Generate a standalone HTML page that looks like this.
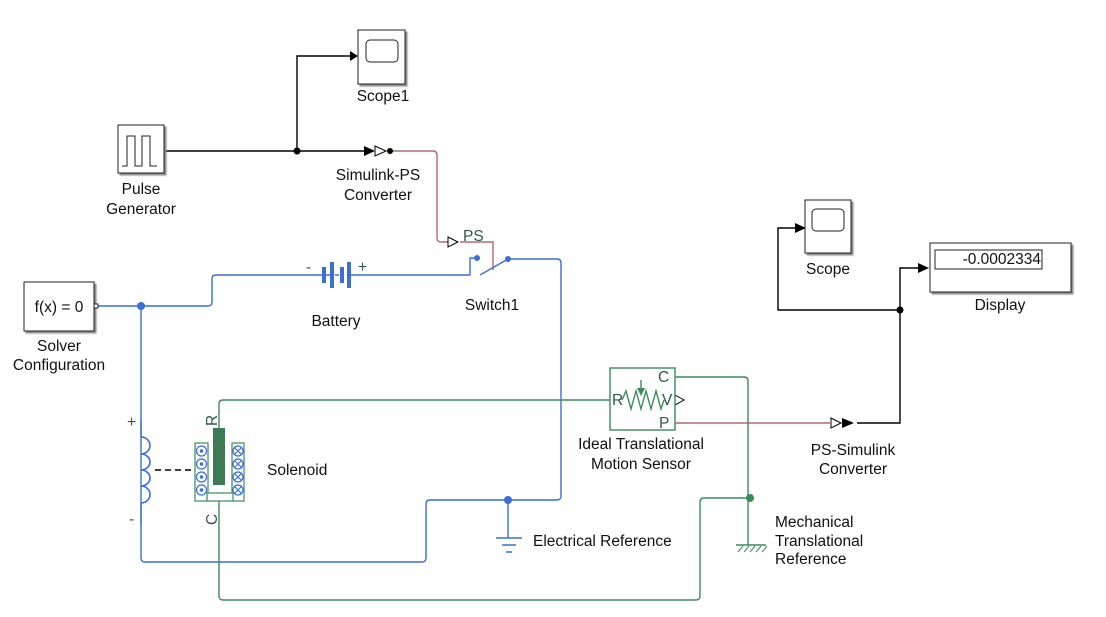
<!DOCTYPE html>
<html><head><meta charset="utf-8"><style>
body{margin:0;background:#fff}
text{font-family:"Liberation Sans",Arial,sans-serif;font-size:15.5px;fill:#111}
</style></head><body>
<svg width="1106" height="612" viewBox="0 0 1106 612" xmlns="http://www.w3.org/2000/svg">
<defs><filter id="sh"><feDropShadow dx="2" dy="2" stdDeviation="0.8" flood-color="#888"/></filter></defs>
<g fill="none" stroke-width="1.4">
<path d="M164 151H297V56H350" stroke="#000"/>
<path d="M297 151H364" stroke="#000"/>
<path d="M857 423H900V268H920" stroke="#000"/>
<path d="M900 310H778V228H797" stroke="#000"/>
<path d="M392 151H433Q437 151 437 155V238Q437 242 441 242H448" stroke="#b06b6b"/>
<path d="M460 242H493V270" stroke="#b06b6b"/>
<path d="M675 423H830" stroke="#b06b6b"/>
<path d="M97 306H208Q212 306 212 302V279Q212 275 216 275H322" stroke="#3a6fd8"/>
<path d="M350 275H470V258H477" stroke="#3a6fd8"/>
<path d="M480 275L508 259" stroke="#3a6fd8"/>
<path d="M508 259H557Q561 259 561 263V496Q561 500 557 500H430Q426 500 426 504V558Q426 562 422 562H145Q141 562 141 558V306" stroke="#3a6fd8"/>
<path d="M508 500V538" stroke="#3a6fd8"/>
<path d="M496 538H522M502 545H516M506 552H512" stroke="#3a6fd8"/>
<path d="M141 420V437M141 503V525" stroke="#3a6fd8"/>
<path d="M141 437a9 8.5 0 0 1 0 17a9 8 0 0 1 0 16a9 8 0 0 1 0 16a9 8.5 0 0 1 0 17" stroke="#3a6fd8" stroke-width="1.6"/>
<path d="M219 428V404Q219 400 223 400H612" stroke="#3e8a5a"/>
<path d="M219 500V596Q219 600 223 600H696Q700 600 700 596V502Q700 498 704 498H750" stroke="#3e8a5a"/>
<path d="M675 377H744Q748 377 748 381V545" stroke="#3e8a5a"/>
<path d="M736 545H766" stroke="#3e8a5a"/>
<path d="M738 552l5-6M744 552l5-6M750 552l5-6M756 552l5-6M762 552l5-6" stroke="#3e8a5a" stroke-width="1"/>
<path d="M155 470H192" stroke="#000" stroke-dasharray="6,4"/>
</g>
<g>
<circle cx="297" cy="151" r="3.5" fill="#000"/>
<circle cx="900" cy="310" r="3.5" fill="#000"/>
<circle cx="141" cy="306" r="4" fill="#3a6fd8"/>
<circle cx="508" cy="500" r="4" fill="#3a6fd8"/>
<circle cx="477" cy="258" r="3" fill="#3a6fd8"/>
<circle cx="508" cy="259" r="3" fill="#3a6fd8"/>
<circle cx="750" cy="498" r="4" fill="#3e8a5a"/>
<circle cx="390" cy="151" r="3" fill="#000"/>
</g>
<path d="M350 51L358 56L350 61Z" fill="#000"/>
<path d="M364 146L375 151L364 156Z" fill="#000"/>
<path d="M375 146L386 151L375 156Z" fill="#fff" stroke="#000"/>
<path d="M448 237L458 242L448 247Z" fill="#fff" stroke="#000"/>
<path d="M675 395L684 400L675 405Z" fill="#fff" stroke="#000"/>
<path d="M831 418L841 423L831 428Z" fill="#fff" stroke="#000"/>
<path d="M842 418L854 423L842 428Z" fill="#000"/>
<path d="M918 263L929 268L918 273Z" fill="#000"/>
<path d="M795 223L806 228L795 233Z" fill="#000"/>
<rect x="358" y="30" width="47" height="54" fill="#fff" stroke="#222" filter="url(#sh)"/>
<rect x="366" y="40" width="32" height="22" rx="4" fill="#fff" stroke="#222"/>
<rect x="118" y="125" width="46" height="48" fill="#fff" stroke="#222" filter="url(#sh)"/>
<path d="M122 166H127V136H135V166H142V136H150V166H157" fill="none" stroke="#222"/>
<rect x="24" y="282" width="70" height="49" fill="#fff" stroke="#222" filter="url(#sh)"/>
<rect x="94" y="304" width="4" height="4" fill="#fff" stroke="#222"/>
<rect x="805" y="200" width="46" height="53" fill="#fff" stroke="#222" filter="url(#sh)"/>
<rect x="812" y="209" width="32" height="22" rx="4" fill="#fff" stroke="#222"/>
<rect x="930" y="243" width="141" height="49" fill="#fff" stroke="#222" filter="url(#sh)"/>
<rect x="935" y="250" width="107" height="19" fill="#fff" stroke="#222"/>
<g fill="#3a6fd8">
<rect x="322" y="267" width="4" height="16"/><rect x="330" y="262" width="4" height="26"/>
<rect x="340" y="267" width="4" height="16"/><rect x="347" y="262" width="4" height="26"/>
</g>
<path d="M326 275H330M335 275H339" stroke="#3a6fd8" stroke-width="1.4"/>
<rect x="610" y="368" width="65" height="62" fill="#fff" stroke="#3e8a5a" stroke-width="1.4"/>
<path d="M622 400L626 391L631 409L636 391L641 409L646 391L651 409L656 391L661 409L664 400" fill="none" stroke="#3e8a5a" stroke-width="1.4"/>
<path d="M641 380V394" stroke="#3e8a5a" stroke-width="1.4"/><path d="M637 388L641 396L645 388Z" fill="#3e8a5a"/>
<g stroke="#3e8a5a" stroke-width="1.2" fill="#fff">
<rect x="195" y="443" width="13" height="58"/><rect x="232" y="443" width="12" height="58"/>
<rect x="207" y="493" width="26" height="8"/>
</g>
<rect x="213" y="428" width="12" height="57" fill="#3e7a55"/>
<g fill="none" stroke="#3a6fd8" stroke-width="1.2">
<circle cx="201.5" cy="451" r="5"/><circle cx="201.5" cy="464" r="5"/><circle cx="201.5" cy="477" r="5"/><circle cx="201.5" cy="490" r="5"/>
<circle cx="238" cy="451" r="5"/><circle cx="238" cy="464" r="5"/><circle cx="238" cy="477" r="5"/><circle cx="238" cy="490" r="5"/>
<path d="M234.5 447.5l7 7M241.5 447.5l-7 7M234.5 460.5l7 7M241.5 460.5l-7 7M234.5 473.5l7 7M241.5 473.5l-7 7M234.5 486.5l7 7M241.5 486.5l-7 7"/>
</g>
<g fill="#3a6fd8"><circle cx="201.5" cy="451" r="1.8"/><circle cx="201.5" cy="464" r="1.8"/><circle cx="201.5" cy="477" r="1.8"/><circle cx="201.5" cy="490" r="1.8"/></g>
<g text-anchor="middle">
<text x="383" y="101">Scope1</text>
<text x="141" y="194">Pulse</text><text x="141" y="214">Generator</text>
<text x="59" y="312">f(x) = 0</text>
<text x="59" y="351">Solver</text><text x="59" y="370">Configuration</text>
<text x="378" y="180">Simulink-PS</text><text x="378" y="200">Converter</text>
<text x="336" y="326">Battery</text>
<text x="492" y="310">Switch1</text>
<text x="828" y="274">Scope</text>
<text x="1000" y="310">Display</text>
<text x="641" y="449">Ideal Translational</text><text x="641" y="469">Motion Sensor</text>
<text x="853" y="455">PS-Simulink</text><text x="853" y="474">Converter</text>
</g>
<text x="1041" y="264" text-anchor="end">-0.0002334</text>
<text x="463" y="241" style="fill:#2e5a4a">PS</text>
<text x="306" y="272" style="fill:#2e5a4a">-</text>
<text x="358" y="272" style="fill:#2e5a4a">+</text>
<text x="127" y="427" style="fill:#2e5a4a">+</text>
<text x="129" y="524" style="fill:#2e5a4a">-</text>
<text x="267" y="475">Solenoid</text>
<text x="533" y="546">Electrical Reference</text>
<text x="775" y="527">Mechanical</text><text x="775" y="546">Translational</text><text x="775" y="564">Reference</text>
<text x="658" y="382" style="fill:#2e5a4a">C</text>
<text x="612" y="405" style="fill:#2e5a4a">R</text>
<text x="662" y="405" style="fill:#2e5a4a">V</text>
<text x="659" y="428" style="fill:#2e5a4a">P</text>
<text transform="translate(217 426) rotate(-90)" style="fill:#2e5a4a">R</text>
<text transform="translate(217 525) rotate(-90)" style="fill:#2e5a4a">C</text>
</svg>
</body></html>
